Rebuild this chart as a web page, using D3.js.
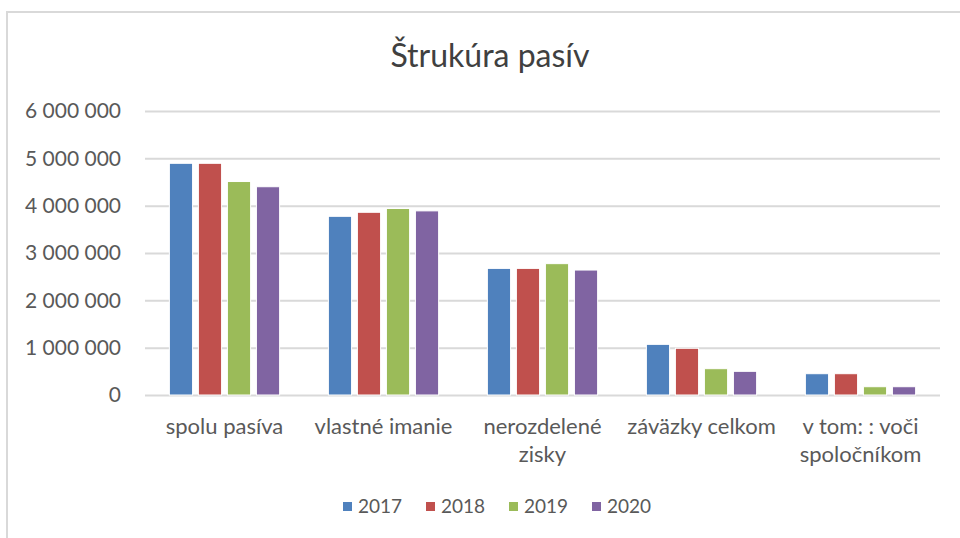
<!DOCTYPE html>
<html lang="sk">
<head>
  <meta charset="UTF-8">
  <title>Štrukúra pasív</title>
  <script src="https://d3js.org/d3.v7.min.js"></script>
  <style>
    html, body { margin: 0; padding: 0; background: #fff; }
    body { font-family: Lato, "Open Sans", sans-serif; }
    svg text { fill: #595959; }
  </style>
</head>
<body>
  <svg id="chart" width="960" height="538"></svg>

  <script>
    // data
    const categories = ["spolu pasíva", "vlastné imanie", "nerozdelené zisky", "záväzky celkom", "v tom: : voči spoločníkom"];
    const categoryLines = [
      ["spolu pasíva"],
      ["vlastné imanie"],
      ["nerozdelené", "zisky"],
      ["záväzky celkom"],
      ["v tom: : voči", "spoločníkom"]
    ];
    const years = ["2017", "2018", "2019", "2020"];
    const values2017 = [4895000, 3775000, 2675000, 1070000, 450000];
    const values2018 = [4895000, 3860000, 2675000, 987000, 450000];
    const values2019 = [4510000, 3940000, 2775000, 556000, 175000];
    const values2020 = [4400000, 3890000, 2640000, 500000, 175000];
    const yTicks = [0, 1000000, 2000000, 3000000, 4000000, 5000000, 6000000];
    const colors = ["#4f81bd", "#c0504d", "#9bbb59", "#8064a2"];

    const seriesValues = [values2017, values2018, values2019, values2020];
    const data = categories.map((c, i) => ({
      category: c,
      lines: categoryLines[i],
      values: years.map((y, j) => ({ year: y, value: seriesValues[j][i] }))
    }));

    const svg = d3.select("#chart");
    const plot = { left: 145, right: 940, top: 111, bottom: 395 };

    // outer frame
    svg.append("rect")
      .attr("x", 7).attr("y", 12)
      .attr("width", 980).attr("height", 560)
      .attr("fill", "none")
      .attr("stroke", "#d9d9d9")
      .attr("stroke-width", 2);

    svg.append("text")
      .attr("x", 490).attr("y", 67)
      .attr("text-anchor", "middle")
      .style("font-size", "32px")
      .style("fill", "#404040")
      .text("Štrukúra pasív");

    const x0 = d3.scaleBand()
      .domain(categories)
      .range([plot.left, plot.right]);

    const x1 = d3.scaleBand()
      .domain(years)
      .range([0, x0.bandwidth()])
      .paddingInner(0.2)
      .paddingOuter(0.84);

    const y = d3.scaleLinear()
      .domain([0, 6000000])
      .range([plot.bottom, plot.top]);

    const color = d3.scaleOrdinal().domain(years).range(colors);

    const locale = d3.formatLocale({ decimal: ",", thousands: "\u00a0", grouping: [3], currency: ["", ""] });
    const fmt = locale.format(",");

    // gridlines + y labels
    const yAxis = svg.append("g")
      .attr("transform", `translate(${plot.left},0)`)
      .call(d3.axisLeft(y).tickValues(yTicks).tickFormat(fmt)
        .tickSize(-(plot.right - plot.left)).tickPadding(24));
    yAxis.select(".domain").remove();
    yAxis.selectAll(".tick line").attr("stroke", "#d9d9d9").attr("stroke-width", 2);
    yAxis.selectAll(".tick text")
      .style("font-size", "21px")
      .style("font-family", "Lato, sans-serif")
      .attr("fill", "#595959");

    // bars
    const groups = svg.append("g").selectAll("g")
      .data(data)
      .enter().append("g")
      .attr("transform", d => `translate(${x0(d.category)},0)`);

    groups.selectAll("rect")
      .data(d => d.values)
      .enter().append("rect")
      .attr("x", d => x1(d.year))
      .attr("width", x1.bandwidth())
      .attr("y", d => y(d.value))
      .attr("height", d => y(0) - y(d.value))
      .attr("fill", d => color(d.year))
      .attr("stroke", "#ffffff")
      .attr("stroke-width", 1);

    // category labels
    const xLabels = svg.append("g").selectAll("text")
      .data(data)
      .enter().append("text")
      .attr("x", d => x0(d.category) + x0.bandwidth() / 2)
      .attr("y", 434)
      .attr("text-anchor", "middle")
      .style("font-size", "22px");
    xLabels.selectAll("tspan")
      .data(d => d.lines)
      .enter().append("tspan")
      .attr("x", function () { return d3.select(this.parentNode).attr("x"); })
      .attr("dy", (d, i) => i === 0 ? 0 : 28)
      .text(d => d);

    // legend
    const legendX = 343, legendStep = 83;
    const legend = svg.append("g").selectAll("g")
      .data(years)
      .enter().append("g")
      .attr("transform", (d, i) => `translate(${legendX + i * legendStep},502)`);
    legend.append("rect")
      .attr("width", 9).attr("height", 9)
      .attr("fill", d => color(d));
    legend.append("text")
      .attr("x", 15).attr("y", 11)
      .style("font-size", "19px")
      .text(d => d);
  </script>
</body>
</html>
